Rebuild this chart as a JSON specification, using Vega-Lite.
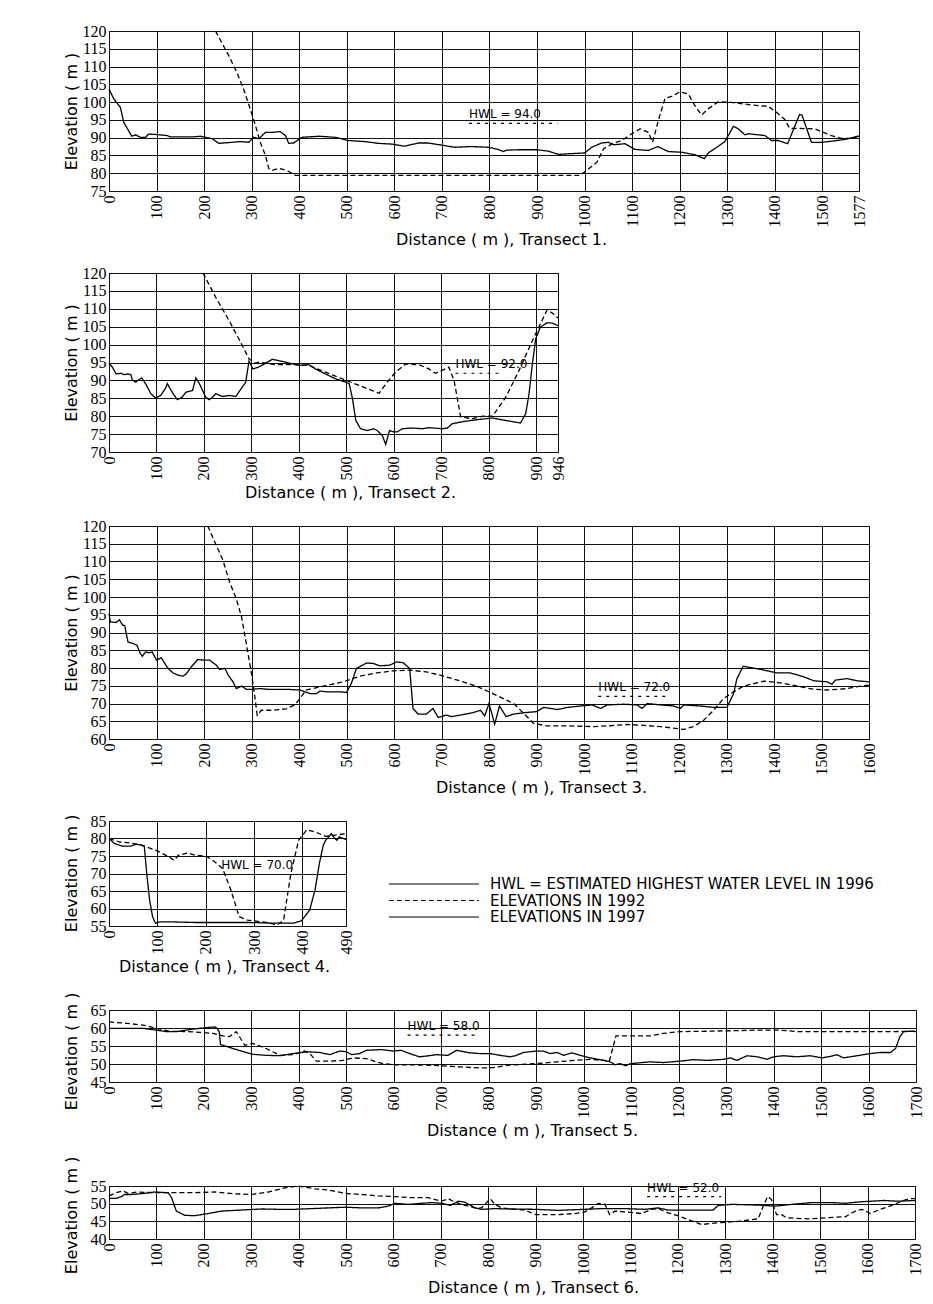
{
  "$schema": "https://vega.github.io/schema/vega-lite/v6.json",
  "padding": {"left": 62, "top": 22, "right": 5, "bottom": 0},
  "spacing": 16,
  "datasets": {
    "hwl": [
      {"t": 1, "d": 757, "d1": 943, "e": 94, "label": "HWL = 94.0"},
      {"t": 2, "d": 730, "d1": 822, "e": 92, "label": "HWL = 92.0"},
      {"t": 3, "d": 1030, "d1": 1180, "e": 72, "label": "HWL = 72.0"},
      {"t": 4, "d": 232, "d1": 232, "e": 70, "label": "HWL = 70.0"},
      {"t": 5, "d": 629, "d1": 777, "e": 58, "label": "HWL = 58.0"},
      {"t": 6, "d": 1135, "d1": 1291, "e": 52, "label": "HWL = 52.0"}
    ],
    "profiles": [
      {"t":1,"s":"1997","d":0,"e":103.7},{"t":1,"s":"1997","d":10,"e":100.9},{"t":1,"s":"1997","d":24,"e":98.5},{"t":1,"s":"1997","d":31,"e":94.3},{"t":1,"s":"1997","d":48,"e":90.4},{"t":1,"s":"1997","d":56,"e":90.8},{"t":1,"s":"1997","d":66,"e":90.1},{"t":1,"s":"1997","d":77,"e":90.1},{"t":1,"s":"1997","d":83,"e":91},{"t":1,"s":"1997","d":98,"e":90.9},{"t":1,"s":"1997","d":122,"e":90.6},{"t":1,"s":"1997","d":129,"e":90.2},{"t":1,"s":"1997","d":175,"e":90.2},{"t":1,"s":"1997","d":192,"e":90.4},{"t":1,"s":"1997","d":217,"e":89.7},{"t":1,"s":"1997","d":231,"e":88.4},{"t":1,"s":"1997","d":259,"e":88.7},{"t":1,"s":"1997","d":276,"e":88.9},{"t":1,"s":"1997","d":294,"e":88.7},{"t":1,"s":"1997","d":304,"e":90.1},{"t":1,"s":"1997","d":315,"e":89.7},{"t":1,"s":"1997","d":329,"e":91.5},{"t":1,"s":"1997","d":343,"e":91.5},{"t":1,"s":"1997","d":360,"e":91.7},{"t":1,"s":"1997","d":371,"e":90.6},{"t":1,"s":"1997","d":378,"e":88.4},{"t":1,"s":"1997","d":388,"e":88.5},{"t":1,"s":"1997","d":406,"e":90.1},{"t":1,"s":"1997","d":441,"e":90.4},{"t":1,"s":"1997","d":476,"e":90.1},{"t":1,"s":"1997","d":503,"e":89.2},{"t":1,"s":"1997","d":538,"e":88.9},{"t":1,"s":"1997","d":566,"e":88.4},{"t":1,"s":"1997","d":594,"e":88.2},{"t":1,"s":"1997","d":622,"e":87.6},{"t":1,"s":"1997","d":650,"e":88.5},{"t":1,"s":"1997","d":671,"e":88.5},{"t":1,"s":"1997","d":699,"e":87.9},{"t":1,"s":"1997","d":727,"e":87.3},{"t":1,"s":"1997","d":762,"e":87.5},{"t":1,"s":"1997","d":797,"e":87.3},{"t":1,"s":"1997","d":818,"e":86.7},{"t":1,"s":"1997","d":829,"e":86.1},{"t":1,"s":"1997","d":836,"e":86.5},{"t":1,"s":"1997","d":862,"e":86.6},{"t":1,"s":"1997","d":900,"e":86.6},{"t":1,"s":"1997","d":924,"e":86.2},{"t":1,"s":"1997","d":945,"e":85.3},{"t":1,"s":"1997","d":970,"e":85.5},{"t":1,"s":"1997","d":1000,"e":85.7},{"t":1,"s":"1997","d":1015,"e":87.3},{"t":1,"s":"1997","d":1036,"e":88.5},{"t":1,"s":"1997","d":1050,"e":88.7},{"t":1,"s":"1997","d":1061,"e":88},{"t":1,"s":"1997","d":1085,"e":88.3},{"t":1,"s":"1997","d":1106,"e":86.7},{"t":1,"s":"1997","d":1134,"e":86.4},{"t":1,"s":"1997","d":1154,"e":87.5},{"t":1,"s":"1997","d":1176,"e":86.1},{"t":1,"s":"1997","d":1204,"e":85.9},{"t":1,"s":"1997","d":1232,"e":85.2},{"t":1,"s":"1997","d":1252,"e":84.1},{"t":1,"s":"1997","d":1260,"e":85.7},{"t":1,"s":"1997","d":1278,"e":87.3},{"t":1,"s":"1997","d":1295,"e":88.9},{"t":1,"s":"1997","d":1313,"e":93.2},{"t":1,"s":"1997","d":1323,"e":92.5},{"t":1,"s":"1997","d":1337,"e":90.8},{"t":1,"s":"1997","d":1344,"e":91.1},{"t":1,"s":"1997","d":1379,"e":90.6},{"t":1,"s":"1997","d":1393,"e":89.2},{"t":1,"s":"1997","d":1407,"e":89.2},{"t":1,"s":"1997","d":1427,"e":88.3},{"t":1,"s":"1997","d":1452,"e":96.5},{"t":1,"s":"1997","d":1457,"e":96.4},{"t":1,"s":"1997","d":1477,"e":88.7},{"t":1,"s":"1997","d":1498,"e":88.7},{"t":1,"s":"1997","d":1519,"e":89},{"t":1,"s":"1997","d":1547,"e":89.5},{"t":1,"s":"1997","d":1577,"e":90.4},
      {"t":1,"s":"1992","d":224,"e":120},{"t":1,"s":"1992","d":252,"e":113},{"t":1,"s":"1992","d":269,"e":108.3},{"t":1,"s":"1992","d":283,"e":103.7},{"t":1,"s":"1992","d":297,"e":98.1},{"t":1,"s":"1992","d":308,"e":93.4},{"t":1,"s":"1992","d":318,"e":88.7},{"t":1,"s":"1992","d":329,"e":85},{"t":1,"s":"1992","d":336,"e":81.3},{"t":1,"s":"1992","d":343,"e":80.8},{"t":1,"s":"1992","d":357,"e":81.4},{"t":1,"s":"1992","d":374,"e":80.8},{"t":1,"s":"1992","d":385,"e":79.9},{"t":1,"s":"1992","d":392,"e":79.4},{"t":1,"s":"1992","d":991,"e":79.4},{"t":1,"s":"1992","d":1026,"e":83.1},{"t":1,"s":"1992","d":1040,"e":86.9},{"t":1,"s":"1992","d":1061,"e":88.5},{"t":1,"s":"1992","d":1078,"e":89.2},{"t":1,"s":"1992","d":1099,"e":91.1},{"t":1,"s":"1992","d":1117,"e":92.5},{"t":1,"s":"1992","d":1134,"e":91.5},{"t":1,"s":"1992","d":1143,"e":88.7},{"t":1,"s":"1992","d":1155,"e":94.8},{"t":1,"s":"1992","d":1169,"e":101},{"t":1,"s":"1992","d":1183,"e":101.6},{"t":1,"s":"1992","d":1201,"e":102.9},{"t":1,"s":"1992","d":1218,"e":102.3},{"t":1,"s":"1992","d":1232,"e":99},{"t":1,"s":"1992","d":1246,"e":96.4},{"t":1,"s":"1992","d":1260,"e":98.1},{"t":1,"s":"1992","d":1281,"e":100.1},{"t":1,"s":"1992","d":1309,"e":99.9},{"t":1,"s":"1992","d":1351,"e":99.2},{"t":1,"s":"1992","d":1386,"e":98.8},{"t":1,"s":"1992","d":1404,"e":97.1},{"t":1,"s":"1992","d":1421,"e":95.1},{"t":1,"s":"1992","d":1431,"e":92.6},{"t":1,"s":"1992","d":1449,"e":92.6},{"t":1,"s":"1992","d":1484,"e":92.5},{"t":1,"s":"1992","d":1498,"e":91.7},{"t":1,"s":"1992","d":1519,"e":90.6},{"t":1,"s":"1992","d":1540,"e":89.8},{"t":1,"s":"1992","d":1561,"e":89.8},{"t":1,"s":"1992","d":1577,"e":90.6},
      {"t":2,"s":"1997","d":0,"e":94.8},{"t":2,"s":"1997","d":7,"e":93.7},{"t":2,"s":"1997","d":15,"e":91.8},{"t":2,"s":"1997","d":25,"e":92},{"t":2,"s":"1997","d":32,"e":91.6},{"t":2,"s":"1997","d":39,"e":91.8},{"t":2,"s":"1997","d":46,"e":91.6},{"t":2,"s":"1997","d":49,"e":90.2},{"t":2,"s":"1997","d":56,"e":89.5},{"t":2,"s":"1997","d":63,"e":90.2},{"t":2,"s":"1997","d":69,"e":90.7},{"t":2,"s":"1997","d":77,"e":89.1},{"t":2,"s":"1997","d":88,"e":86.3},{"t":2,"s":"1997","d":98,"e":85.1},{"t":2,"s":"1997","d":109,"e":85.8},{"t":2,"s":"1997","d":119,"e":87.8},{"t":2,"s":"1997","d":123,"e":89.1},{"t":2,"s":"1997","d":133,"e":86.7},{"t":2,"s":"1997","d":144,"e":84.6},{"t":2,"s":"1997","d":154,"e":85.3},{"t":2,"s":"1997","d":162,"e":86.7},{"t":2,"s":"1997","d":176,"e":87.2},{"t":2,"s":"1997","d":183,"e":90.7},{"t":2,"s":"1997","d":190,"e":89.2},{"t":2,"s":"1997","d":204,"e":85.3},{"t":2,"s":"1997","d":211,"e":84.6},{"t":2,"s":"1997","d":218,"e":85.3},{"t":2,"s":"1997","d":225,"e":86.3},{"t":2,"s":"1997","d":239,"e":85.5},{"t":2,"s":"1997","d":253,"e":85.8},{"t":2,"s":"1997","d":267,"e":85.5},{"t":2,"s":"1997","d":277,"e":87.4},{"t":2,"s":"1997","d":288,"e":89.5},{"t":2,"s":"1997","d":295,"e":95.4},{"t":2,"s":"1997","d":303,"e":93.2},{"t":2,"s":"1997","d":315,"e":93.7},{"t":2,"s":"1997","d":330,"e":94.8},{"t":2,"s":"1997","d":344,"e":95.9},{"t":2,"s":"1997","d":372,"e":95.1},{"t":2,"s":"1997","d":400,"e":94.2},{"t":2,"s":"1997","d":421,"e":94.4},{"t":2,"s":"1997","d":435,"e":93.2},{"t":2,"s":"1997","d":456,"e":91.8},{"t":2,"s":"1997","d":478,"e":90.4},{"t":2,"s":"1997","d":499,"e":89.5},{"t":2,"s":"1997","d":506,"e":89.1},{"t":2,"s":"1997","d":513,"e":84.9},{"t":2,"s":"1997","d":520,"e":78.8},{"t":2,"s":"1997","d":530,"e":76.5},{"t":2,"s":"1997","d":544,"e":76},{"t":2,"s":"1997","d":558,"e":76.5},{"t":2,"s":"1997","d":565,"e":76},{"t":2,"s":"1997","d":576,"e":74.6},{"t":2,"s":"1997","d":583,"e":72.1},{"t":2,"s":"1997","d":591,"e":76},{"t":2,"s":"1997","d":600,"e":75.6},{"t":2,"s":"1997","d":607,"e":75.6},{"t":2,"s":"1997","d":618,"e":76.5},{"t":2,"s":"1997","d":639,"e":76.7},{"t":2,"s":"1997","d":660,"e":76.5},{"t":2,"s":"1997","d":674,"e":76.8},{"t":2,"s":"1997","d":702,"e":76.5},{"t":2,"s":"1997","d":713,"e":76.7},{"t":2,"s":"1997","d":723,"e":77.9},{"t":2,"s":"1997","d":751,"e":78.6},{"t":2,"s":"1997","d":780,"e":79.1},{"t":2,"s":"1997","d":808,"e":79.5},{"t":2,"s":"1997","d":836,"e":78.8},{"t":2,"s":"1997","d":853,"e":78.4},{"t":2,"s":"1997","d":867,"e":78.1},{"t":2,"s":"1997","d":878,"e":80.7},{"t":2,"s":"1997","d":885,"e":86.3},{"t":2,"s":"1997","d":892,"e":94.6},{"t":2,"s":"1997","d":899,"e":101.6},{"t":2,"s":"1997","d":909,"e":104.9},{"t":2,"s":"1997","d":923,"e":106.1},{"t":2,"s":"1997","d":934,"e":106},{"t":2,"s":"1997","d":946,"e":105.3},
      {"t":2,"s":"1992","d":198,"e":120},{"t":2,"s":"1992","d":225,"e":113.2},{"t":2,"s":"1992","d":253,"e":106.7},{"t":2,"s":"1992","d":281,"e":99.7},{"t":2,"s":"1992","d":295,"e":96},{"t":2,"s":"1992","d":309,"e":94.8},{"t":2,"s":"1992","d":316,"e":95.1},{"t":2,"s":"1992","d":330,"e":94.8},{"t":2,"s":"1992","d":351,"e":94.4},{"t":2,"s":"1992","d":386,"e":94.4},{"t":2,"s":"1992","d":421,"e":94.2},{"t":2,"s":"1992","d":456,"e":92.3},{"t":2,"s":"1992","d":492,"e":90.4},{"t":2,"s":"1992","d":527,"e":88.6},{"t":2,"s":"1992","d":569,"e":86.4},{"t":2,"s":"1992","d":586,"e":89.5},{"t":2,"s":"1992","d":604,"e":92.3},{"t":2,"s":"1992","d":625,"e":94.6},{"t":2,"s":"1992","d":653,"e":94.4},{"t":2,"s":"1992","d":674,"e":93.2},{"t":2,"s":"1992","d":688,"e":92},{"t":2,"s":"1992","d":702,"e":92.8},{"t":2,"s":"1992","d":716,"e":93.7},{"t":2,"s":"1992","d":727,"e":90},{"t":2,"s":"1992","d":741,"e":79.8},{"t":2,"s":"1992","d":765,"e":79.3},{"t":2,"s":"1992","d":787,"e":80},{"t":2,"s":"1992","d":808,"e":80},{"t":2,"s":"1992","d":836,"e":85.3},{"t":2,"s":"1992","d":864,"e":92.8},{"t":2,"s":"1992","d":892,"e":101.1},{"t":2,"s":"1992","d":909,"e":105.8},{"t":2,"s":"1992","d":923,"e":109.7},{"t":2,"s":"1992","d":934,"e":108.8},{"t":2,"s":"1992","d":946,"e":107.4},
      {"t":3,"s":"1997","d":0,"e":95.3},{"t":3,"s":"1997","d":3,"e":93},{"t":3,"s":"1997","d":15,"e":92.8},{"t":3,"s":"1997","d":22,"e":93.6},{"t":3,"s":"1997","d":29,"e":92},{"t":3,"s":"1997","d":33,"e":92},{"t":3,"s":"1997","d":40,"e":87.3},{"t":3,"s":"1997","d":51,"e":86.9},{"t":3,"s":"1997","d":59,"e":86.4},{"t":3,"s":"1997","d":65,"e":84.3},{"t":3,"s":"1997","d":70,"e":83.3},{"t":3,"s":"1997","d":77,"e":84.5},{"t":3,"s":"1997","d":84,"e":84.3},{"t":3,"s":"1997","d":91,"e":84.5},{"t":3,"s":"1997","d":100,"e":82.2},{"t":3,"s":"1997","d":110,"e":82.9},{"t":3,"s":"1997","d":124,"e":79.9},{"t":3,"s":"1997","d":135,"e":78.6},{"t":3,"s":"1997","d":145,"e":78},{"t":3,"s":"1997","d":156,"e":77.7},{"t":3,"s":"1997","d":163,"e":78.4},{"t":3,"s":"1997","d":173,"e":80.3},{"t":3,"s":"1997","d":187,"e":82.4},{"t":3,"s":"1997","d":198,"e":82.2},{"t":3,"s":"1997","d":212,"e":82.2},{"t":3,"s":"1997","d":226,"e":80.8},{"t":3,"s":"1997","d":233,"e":79.6},{"t":3,"s":"1997","d":244,"e":79.9},{"t":3,"s":"1997","d":251,"e":78},{"t":3,"s":"1997","d":261,"e":76.1},{"t":3,"s":"1997","d":268,"e":74.2},{"t":3,"s":"1997","d":279,"e":74.9},{"t":3,"s":"1997","d":289,"e":74},{"t":3,"s":"1997","d":300,"e":74},{"t":3,"s":"1997","d":317,"e":74.2},{"t":3,"s":"1997","d":335,"e":74},{"t":3,"s":"1997","d":373,"e":74},{"t":3,"s":"1997","d":402,"e":73.8},{"t":3,"s":"1997","d":423,"e":72.8},{"t":3,"s":"1997","d":437,"e":72.8},{"t":3,"s":"1997","d":444,"e":73.5},{"t":3,"s":"1997","d":458,"e":73.3},{"t":3,"s":"1997","d":486,"e":73.3},{"t":3,"s":"1997","d":500,"e":73.1},{"t":3,"s":"1997","d":510,"e":75.6},{"t":3,"s":"1997","d":521,"e":79.9},{"t":3,"s":"1997","d":542,"e":81.4},{"t":3,"s":"1997","d":556,"e":81.3},{"t":3,"s":"1997","d":570,"e":80.6},{"t":3,"s":"1997","d":591,"e":80.8},{"t":3,"s":"1997","d":605,"e":81.7},{"t":3,"s":"1997","d":619,"e":81.5},{"t":3,"s":"1997","d":633,"e":79.9},{"t":3,"s":"1997","d":640,"e":68.6},{"t":3,"s":"1997","d":651,"e":67},{"t":3,"s":"1997","d":668,"e":67},{"t":3,"s":"1997","d":682,"e":68.6},{"t":3,"s":"1997","d":693,"e":66.1},{"t":3,"s":"1997","d":710,"e":66.7},{"t":3,"s":"1997","d":721,"e":66.3},{"t":3,"s":"1997","d":738,"e":66.7},{"t":3,"s":"1997","d":766,"e":67.4},{"t":3,"s":"1997","d":782,"e":68.1},{"t":3,"s":"1997","d":791,"e":66.5},{"t":3,"s":"1997","d":800,"e":70},{"t":3,"s":"1997","d":812,"e":64.2},{"t":3,"s":"1997","d":822,"e":69.3},{"t":3,"s":"1997","d":836,"e":66.3},{"t":3,"s":"1997","d":851,"e":67},{"t":3,"s":"1997","d":873,"e":67.4},{"t":3,"s":"1997","d":900,"e":67.7},{"t":3,"s":"1997","d":915,"e":68.9},{"t":3,"s":"1997","d":944,"e":68.3},{"t":3,"s":"1997","d":965,"e":68.9},{"t":3,"s":"1997","d":993,"e":69.3},{"t":3,"s":"1997","d":1017,"e":69.6},{"t":3,"s":"1997","d":1035,"e":68.6},{"t":3,"s":"1997","d":1049,"e":69.6},{"t":3,"s":"1997","d":1084,"e":69.8},{"t":3,"s":"1997","d":1112,"e":69.6},{"t":3,"s":"1997","d":1122,"e":68.6},{"t":3,"s":"1997","d":1133,"e":70},{"t":3,"s":"1997","d":1161,"e":69.6},{"t":3,"s":"1997","d":1189,"e":69.3},{"t":3,"s":"1997","d":1203,"e":68.6},{"t":3,"s":"1997","d":1210,"e":69.6},{"t":3,"s":"1997","d":1245,"e":69.3},{"t":3,"s":"1997","d":1273,"e":68.9},{"t":3,"s":"1997","d":1301,"e":68.9},{"t":3,"s":"1997","d":1315,"e":72.8},{"t":3,"s":"1997","d":1322,"e":77},{"t":3,"s":"1997","d":1335,"e":80.5},{"t":3,"s":"1997","d":1372,"e":79.6},{"t":3,"s":"1997","d":1407,"e":78.6},{"t":3,"s":"1997","d":1435,"e":78.6},{"t":3,"s":"1997","d":1463,"e":77.5},{"t":3,"s":"1997","d":1484,"e":76.4},{"t":3,"s":"1997","d":1512,"e":76.1},{"t":3,"s":"1997","d":1522,"e":75.4},{"t":3,"s":"1997","d":1529,"e":76.6},{"t":3,"s":"1997","d":1554,"e":77},{"t":3,"s":"1997","d":1575,"e":76.4},{"t":3,"s":"1997","d":1600,"e":76.1},
      {"t":3,"s":"1992","d":208,"e":120},{"t":3,"s":"1992","d":226,"e":114.5},{"t":3,"s":"1992","d":240,"e":110.3},{"t":3,"s":"1992","d":254,"e":104.2},{"t":3,"s":"1992","d":268,"e":99.5},{"t":3,"s":"1992","d":279,"e":94.4},{"t":3,"s":"1992","d":289,"e":86.9},{"t":3,"s":"1992","d":300,"e":78.4},{"t":3,"s":"1992","d":307,"e":71.9},{"t":3,"s":"1992","d":312,"e":66.7},{"t":3,"s":"1992","d":321,"e":68.1},{"t":3,"s":"1992","d":345,"e":68.1},{"t":3,"s":"1992","d":373,"e":68.5},{"t":3,"s":"1992","d":391,"e":69.6},{"t":3,"s":"1992","d":402,"e":71.4},{"t":3,"s":"1992","d":415,"e":73.8},{"t":3,"s":"1992","d":451,"e":74.9},{"t":3,"s":"1992","d":493,"e":76.1},{"t":3,"s":"1992","d":528,"e":77.7},{"t":3,"s":"1992","d":563,"e":78.6},{"t":3,"s":"1992","d":598,"e":79.2},{"t":3,"s":"1992","d":633,"e":79.4},{"t":3,"s":"1992","d":668,"e":78.9},{"t":3,"s":"1992","d":703,"e":77.8},{"t":3,"s":"1992","d":738,"e":76.4},{"t":3,"s":"1992","d":773,"e":74.9},{"t":3,"s":"1992","d":808,"e":72.8},{"t":3,"s":"1992","d":836,"e":71},{"t":3,"s":"1992","d":852,"e":70},{"t":3,"s":"1992","d":873,"e":67.2},{"t":3,"s":"1992","d":894,"e":64.4},{"t":3,"s":"1992","d":922,"e":63.7},{"t":3,"s":"1992","d":965,"e":63.7},{"t":3,"s":"1992","d":1021,"e":63.5},{"t":3,"s":"1992","d":1049,"e":63.7},{"t":3,"s":"1992","d":1091,"e":64.1},{"t":3,"s":"1992","d":1119,"e":63.9},{"t":3,"s":"1992","d":1161,"e":63.5},{"t":3,"s":"1992","d":1210,"e":62.7},{"t":3,"s":"1992","d":1231,"e":63.5},{"t":3,"s":"1992","d":1252,"e":65.3},{"t":3,"s":"1992","d":1273,"e":68.1},{"t":3,"s":"1992","d":1294,"e":71.4},{"t":3,"s":"1992","d":1315,"e":73.3},{"t":3,"s":"1992","d":1336,"e":74.9},{"t":3,"s":"1992","d":1379,"e":76.3},{"t":3,"s":"1992","d":1414,"e":75.8},{"t":3,"s":"1992","d":1456,"e":74.7},{"t":3,"s":"1992","d":1484,"e":74},{"t":3,"s":"1992","d":1512,"e":73.8},{"t":3,"s":"1992","d":1554,"e":74.2},{"t":3,"s":"1992","d":1582,"e":74.9},{"t":3,"s":"1992","d":1600,"e":75.2},
      {"t":4,"s":"1997","d":0,"e":80},{"t":4,"s":"1997","d":11,"e":78.6},{"t":4,"s":"1997","d":28,"e":77.8},{"t":4,"s":"1997","d":45,"e":77.8},{"t":4,"s":"1997","d":56,"e":78.4},{"t":4,"s":"1997","d":67,"e":78.1},{"t":4,"s":"1997","d":73,"e":77.8},{"t":4,"s":"1997","d":78,"e":70},{"t":4,"s":"1997","d":84,"e":62.4},{"t":4,"s":"1997","d":90,"e":57.7},{"t":4,"s":"1997","d":96,"e":55.8},{"t":4,"s":"1997","d":106,"e":56.2},{"t":4,"s":"1997","d":123,"e":56.2},{"t":4,"s":"1997","d":179,"e":56},{"t":4,"s":"1997","d":235,"e":56},{"t":4,"s":"1997","d":291,"e":56},{"t":4,"s":"1997","d":348,"e":55.8},{"t":4,"s":"1997","d":381,"e":55.8},{"t":4,"s":"1997","d":398,"e":56.5},{"t":4,"s":"1997","d":415,"e":59.6},{"t":4,"s":"1997","d":426,"e":65.3},{"t":4,"s":"1997","d":435,"e":72.9},{"t":4,"s":"1997","d":443,"e":78.1},{"t":4,"s":"1997","d":448,"e":79.5},{"t":4,"s":"1997","d":460,"e":81.4},{"t":4,"s":"1997","d":465,"e":80.3},{"t":4,"s":"1997","d":471,"e":79.5},{"t":4,"s":"1997","d":476,"e":80.5},{"t":4,"s":"1997","d":490,"e":79.7},
      {"t":4,"s":"1992","d":0,"e":80},{"t":4,"s":"1992","d":22,"e":79},{"t":4,"s":"1992","d":45,"e":78.7},{"t":4,"s":"1992","d":67,"e":78.1},{"t":4,"s":"1992","d":101,"e":76.4},{"t":4,"s":"1992","d":123,"e":74.8},{"t":4,"s":"1992","d":135,"e":73.8},{"t":4,"s":"1992","d":143,"e":75.2},{"t":4,"s":"1992","d":163,"e":75.9},{"t":4,"s":"1992","d":179,"e":75.2},{"t":4,"s":"1992","d":202,"e":74.9},{"t":4,"s":"1992","d":219,"e":73.3},{"t":4,"s":"1992","d":235,"e":71.4},{"t":4,"s":"1992","d":252,"e":65.3},{"t":4,"s":"1992","d":269,"e":57.7},{"t":4,"s":"1992","d":286,"e":56.7},{"t":4,"s":"1992","d":325,"e":56},{"t":4,"s":"1992","d":348,"e":55.3},{"t":4,"s":"1992","d":361,"e":56.7},{"t":4,"s":"1992","d":376,"e":70},{"t":4,"s":"1992","d":392,"e":79.5},{"t":4,"s":"1992","d":409,"e":82.5},{"t":4,"s":"1992","d":426,"e":81.9},{"t":4,"s":"1992","d":448,"e":80.6},{"t":4,"s":"1992","d":465,"e":80.9},{"t":4,"s":"1992","d":490,"e":81.4},
      {"t":5,"s":"1997","d":0,"e":59.9},{"t":5,"s":"1997","d":37,"e":59.9},{"t":5,"s":"1997","d":72,"e":59.9},{"t":5,"s":"1997","d":100,"e":59.4},{"t":5,"s":"1997","d":121,"e":59},{"t":5,"s":"1997","d":142,"e":59},{"t":5,"s":"1997","d":177,"e":59.7},{"t":5,"s":"1997","d":205,"e":60.1},{"t":5,"s":"1997","d":223,"e":60.3},{"t":5,"s":"1997","d":228,"e":59.9},{"t":5,"s":"1997","d":232,"e":59},{"t":5,"s":"1997","d":235,"e":55.4},{"t":5,"s":"1997","d":240,"e":55.2},{"t":5,"s":"1997","d":261,"e":54.3},{"t":5,"s":"1997","d":289,"e":53.2},{"t":5,"s":"1997","d":303,"e":52.7},{"t":5,"s":"1997","d":331,"e":52.4},{"t":5,"s":"1997","d":360,"e":52.3},{"t":5,"s":"1997","d":388,"e":52.9},{"t":5,"s":"1997","d":416,"e":53.4},{"t":5,"s":"1997","d":444,"e":53.2},{"t":5,"s":"1997","d":465,"e":52.6},{"t":5,"s":"1997","d":486,"e":53.6},{"t":5,"s":"1997","d":500,"e":53.4},{"t":5,"s":"1997","d":511,"e":52.6},{"t":5,"s":"1997","d":528,"e":52.9},{"t":5,"s":"1997","d":542,"e":53.8},{"t":5,"s":"1997","d":574,"e":54},{"t":5,"s":"1997","d":598,"e":53.6},{"t":5,"s":"1997","d":616,"e":53.8},{"t":5,"s":"1997","d":633,"e":52.9},{"t":5,"s":"1997","d":654,"e":52},{"t":5,"s":"1997","d":675,"e":52.3},{"t":5,"s":"1997","d":689,"e":52.6},{"t":5,"s":"1997","d":714,"e":52.4},{"t":5,"s":"1997","d":732,"e":53.8},{"t":5,"s":"1997","d":760,"e":53.1},{"t":5,"s":"1997","d":781,"e":52.9},{"t":5,"s":"1997","d":803,"e":52.9},{"t":5,"s":"1997","d":824,"e":52.4},{"t":5,"s":"1997","d":845,"e":52},{"t":5,"s":"1997","d":856,"e":52.3},{"t":5,"s":"1997","d":873,"e":53.2},{"t":5,"s":"1997","d":900,"e":53.6},{"t":5,"s":"1997","d":915,"e":53.6},{"t":5,"s":"1997","d":929,"e":52.9},{"t":5,"s":"1997","d":944,"e":53.2},{"t":5,"s":"1997","d":958,"e":52.4},{"t":5,"s":"1997","d":975,"e":53.1},{"t":5,"s":"1997","d":993,"e":52.4},{"t":5,"s":"1997","d":1014,"e":51.7},{"t":5,"s":"1997","d":1042,"e":51},{"t":5,"s":"1997","d":1056,"e":50.6},{"t":5,"s":"1997","d":1066,"e":49.8},{"t":5,"s":"1997","d":1077,"e":50.1},{"t":5,"s":"1997","d":1088,"e":49.5},{"t":5,"s":"1997","d":1098,"e":50.1},{"t":5,"s":"1997","d":1140,"e":50.6},{"t":5,"s":"1997","d":1168,"e":50.4},{"t":5,"s":"1997","d":1203,"e":50.8},{"t":5,"s":"1997","d":1231,"e":51.2},{"t":5,"s":"1997","d":1260,"e":51},{"t":5,"s":"1997","d":1295,"e":51.3},{"t":5,"s":"1997","d":1309,"e":51.7},{"t":5,"s":"1997","d":1323,"e":51},{"t":5,"s":"1997","d":1344,"e":52.3},{"t":5,"s":"1997","d":1365,"e":52},{"t":5,"s":"1997","d":1386,"e":51.3},{"t":5,"s":"1997","d":1400,"e":52},{"t":5,"s":"1997","d":1421,"e":52.3},{"t":5,"s":"1997","d":1449,"e":52},{"t":5,"s":"1997","d":1477,"e":52.3},{"t":5,"s":"1997","d":1502,"e":51.7},{"t":5,"s":"1997","d":1519,"e":52.1},{"t":5,"s":"1997","d":1533,"e":52.6},{"t":5,"s":"1997","d":1547,"e":51.7},{"t":5,"s":"1997","d":1576,"e":52.3},{"t":5,"s":"1997","d":1604,"e":52.9},{"t":5,"s":"1997","d":1625,"e":53.2},{"t":5,"s":"1997","d":1646,"e":53.2},{"t":5,"s":"1997","d":1657,"e":54.3},{"t":5,"s":"1997","d":1666,"e":57.6},{"t":5,"s":"1997","d":1674,"e":59},{"t":5,"s":"1997","d":1688,"e":59.1},{"t":5,"s":"1997","d":1700,"e":59},
      {"t":5,"s":"1992","d":0,"e":61.7},{"t":5,"s":"1992","d":37,"e":61.3},{"t":5,"s":"1992","d":72,"e":60.8},{"t":5,"s":"1992","d":100,"e":59.9},{"t":5,"s":"1992","d":128,"e":59.1},{"t":5,"s":"1992","d":163,"e":59},{"t":5,"s":"1992","d":191,"e":58.8},{"t":5,"s":"1992","d":219,"e":58.5},{"t":5,"s":"1992","d":240,"e":57.8},{"t":5,"s":"1992","d":254,"e":57.6},{"t":5,"s":"1992","d":268,"e":59},{"t":5,"s":"1992","d":286,"e":55.2},{"t":5,"s":"1992","d":303,"e":55.7},{"t":5,"s":"1992","d":331,"e":54.3},{"t":5,"s":"1992","d":360,"e":52.4},{"t":5,"s":"1992","d":388,"e":52.6},{"t":5,"s":"1992","d":412,"e":53.6},{"t":5,"s":"1992","d":423,"e":52.9},{"t":5,"s":"1992","d":437,"e":50.8},{"t":5,"s":"1992","d":465,"e":50.8},{"t":5,"s":"1992","d":493,"e":51},{"t":5,"s":"1992","d":514,"e":51.7},{"t":5,"s":"1992","d":542,"e":51.5},{"t":5,"s":"1992","d":563,"e":50.6},{"t":5,"s":"1992","d":577,"e":50.1},{"t":5,"s":"1992","d":598,"e":49.8},{"t":5,"s":"1992","d":669,"e":49.7},{"t":5,"s":"1992","d":704,"e":49.5},{"t":5,"s":"1992","d":739,"e":49.2},{"t":5,"s":"1992","d":781,"e":48.9},{"t":5,"s":"1992","d":803,"e":48.9},{"t":5,"s":"1992","d":845,"e":49.7},{"t":5,"s":"1992","d":900,"e":50.1},{"t":5,"s":"1992","d":944,"e":50.6},{"t":5,"s":"1992","d":979,"e":51},{"t":5,"s":"1992","d":1014,"e":51.3},{"t":5,"s":"1992","d":1042,"e":51},{"t":5,"s":"1992","d":1054,"e":50.8},{"t":5,"s":"1992","d":1068,"e":57.8},{"t":5,"s":"1992","d":1098,"e":57.8},{"t":5,"s":"1992","d":1140,"e":57.8},{"t":5,"s":"1992","d":1168,"e":58.5},{"t":5,"s":"1992","d":1203,"e":59},{"t":5,"s":"1992","d":1260,"e":59.1},{"t":5,"s":"1992","d":1365,"e":59.4},{"t":5,"s":"1992","d":1414,"e":59.4},{"t":5,"s":"1992","d":1449,"e":59},{"t":5,"s":"1992","d":1505,"e":59},{"t":5,"s":"1992","d":1576,"e":59},{"t":5,"s":"1992","d":1646,"e":59},{"t":5,"s":"1992","d":1700,"e":59.1},
      {"t":6,"s":"1997","d":0,"e":51.5},{"t":6,"s":"1997","d":15,"e":51.5},{"t":6,"s":"1997","d":26,"e":52},{"t":6,"s":"1997","d":33,"e":52.6},{"t":6,"s":"1997","d":47,"e":52.6},{"t":6,"s":"1997","d":75,"e":52.9},{"t":6,"s":"1997","d":96,"e":53.3},{"t":6,"s":"1997","d":125,"e":53.1},{"t":6,"s":"1997","d":132,"e":51.7},{"t":6,"s":"1997","d":142,"e":47.9},{"t":6,"s":"1997","d":160,"e":46.7},{"t":6,"s":"1997","d":181,"e":46.6},{"t":6,"s":"1997","d":209,"e":47.2},{"t":6,"s":"1997","d":237,"e":47.9},{"t":6,"s":"1997","d":279,"e":48.2},{"t":6,"s":"1997","d":322,"e":48.5},{"t":6,"s":"1997","d":357,"e":48.4},{"t":6,"s":"1997","d":392,"e":48.4},{"t":6,"s":"1997","d":427,"e":48.6},{"t":6,"s":"1997","d":462,"e":48.8},{"t":6,"s":"1997","d":498,"e":49},{"t":6,"s":"1997","d":533,"e":48.8},{"t":6,"s":"1997","d":568,"e":48.8},{"t":6,"s":"1997","d":589,"e":49.3},{"t":6,"s":"1997","d":603,"e":50.1},{"t":6,"s":"1997","d":631,"e":49.8},{"t":6,"s":"1997","d":659,"e":50.1},{"t":6,"s":"1997","d":680,"e":50.3},{"t":6,"s":"1997","d":702,"e":50.1},{"t":6,"s":"1997","d":720,"e":49.5},{"t":6,"s":"1997","d":737,"e":50.7},{"t":6,"s":"1997","d":751,"e":50.4},{"t":6,"s":"1997","d":772,"e":48.8},{"t":6,"s":"1997","d":786,"e":48.4},{"t":6,"s":"1997","d":814,"e":48.6},{"t":6,"s":"1997","d":842,"e":48.5},{"t":6,"s":"1997","d":900,"e":48.4},{"t":6,"s":"1997","d":947,"e":48.1},{"t":6,"s":"1997","d":1003,"e":48.4},{"t":6,"s":"1997","d":1039,"e":48.6},{"t":6,"s":"1997","d":1088,"e":48.6},{"t":6,"s":"1997","d":1130,"e":48.4},{"t":6,"s":"1997","d":1158,"e":48.8},{"t":6,"s":"1997","d":1179,"e":48.2},{"t":6,"s":"1997","d":1229,"e":48.2},{"t":6,"s":"1997","d":1274,"e":48.2},{"t":6,"s":"1997","d":1285,"e":49.5},{"t":6,"s":"1997","d":1313,"e":49.8},{"t":6,"s":"1997","d":1369,"e":49.6},{"t":6,"s":"1997","d":1405,"e":49.3},{"t":6,"s":"1997","d":1440,"e":49.8},{"t":6,"s":"1997","d":1482,"e":50.3},{"t":6,"s":"1997","d":1524,"e":50.3},{"t":6,"s":"1997","d":1554,"e":50.1},{"t":6,"s":"1997","d":1582,"e":50.5},{"t":6,"s":"1997","d":1635,"e":50.9},{"t":6,"s":"1997","d":1663,"e":50.7},{"t":6,"s":"1997","d":1700,"e":50.9},
      {"t":6,"s":"1992","d":0,"e":52.2},{"t":6,"s":"1992","d":15,"e":53.1},{"t":6,"s":"1992","d":30,"e":53.6},{"t":6,"s":"1992","d":40,"e":52.9},{"t":6,"s":"1992","d":61,"e":53.3},{"t":6,"s":"1992","d":96,"e":53.1},{"t":6,"s":"1992","d":132,"e":53.1},{"t":6,"s":"1992","d":181,"e":53.1},{"t":6,"s":"1992","d":223,"e":53.3},{"t":6,"s":"1992","d":265,"e":52.8},{"t":6,"s":"1992","d":300,"e":52.6},{"t":6,"s":"1992","d":336,"e":53.3},{"t":6,"s":"1992","d":371,"e":54.5},{"t":6,"s":"1992","d":399,"e":55},{"t":6,"s":"1992","d":434,"e":54.2},{"t":6,"s":"1992","d":462,"e":53.9},{"t":6,"s":"1992","d":498,"e":52.9},{"t":6,"s":"1992","d":533,"e":52.6},{"t":6,"s":"1992","d":568,"e":52.2},{"t":6,"s":"1992","d":603,"e":52},{"t":6,"s":"1992","d":638,"e":51.7},{"t":6,"s":"1992","d":673,"e":51.7},{"t":6,"s":"1992","d":702,"e":50.7},{"t":6,"s":"1992","d":716,"e":51.4},{"t":6,"s":"1992","d":730,"e":50.4},{"t":6,"s":"1992","d":751,"e":49.5},{"t":6,"s":"1992","d":772,"e":48.8},{"t":6,"s":"1992","d":786,"e":48.8},{"t":6,"s":"1992","d":804,"e":51.4},{"t":6,"s":"1992","d":814,"e":49.8},{"t":6,"s":"1992","d":828,"e":48.8},{"t":6,"s":"1992","d":849,"e":48.5},{"t":6,"s":"1992","d":877,"e":48.2},{"t":6,"s":"1992","d":900,"e":46.9},{"t":6,"s":"1992","d":947,"e":46.9},{"t":6,"s":"1992","d":982,"e":47.2},{"t":6,"s":"1992","d":1003,"e":47.6},{"t":6,"s":"1992","d":1018,"e":48.8},{"t":6,"s":"1992","d":1032,"e":50.1},{"t":6,"s":"1992","d":1046,"e":49.8},{"t":6,"s":"1992","d":1056,"e":46.9},{"t":6,"s":"1992","d":1067,"e":47.9},{"t":6,"s":"1992","d":1095,"e":47.6},{"t":6,"s":"1992","d":1123,"e":47.2},{"t":6,"s":"1992","d":1144,"e":48.4},{"t":6,"s":"1992","d":1158,"e":48.6},{"t":6,"s":"1992","d":1179,"e":47.4},{"t":6,"s":"1992","d":1200,"e":46.6},{"t":6,"s":"1992","d":1222,"e":45.5},{"t":6,"s":"1992","d":1250,"e":44.1},{"t":6,"s":"1992","d":1285,"e":44.6},{"t":6,"s":"1992","d":1327,"e":45},{"t":6,"s":"1992","d":1369,"e":45.7},{"t":6,"s":"1992","d":1380,"e":49.3},{"t":6,"s":"1992","d":1389,"e":52},{"t":6,"s":"1992","d":1397,"e":51.2},{"t":6,"s":"1992","d":1408,"e":46.9},{"t":6,"s":"1992","d":1419,"e":46.9},{"t":6,"s":"1992","d":1429,"e":46},{"t":6,"s":"1992","d":1475,"e":45.7},{"t":6,"s":"1992","d":1510,"e":46},{"t":6,"s":"1992","d":1553,"e":46.3},{"t":6,"s":"1992","d":1574,"e":47.9},{"t":6,"s":"1992","d":1588,"e":48.4},{"t":6,"s":"1992","d":1606,"e":47.2},{"t":6,"s":"1992","d":1623,"e":48.2},{"t":6,"s":"1992","d":1651,"e":49.5},{"t":6,"s":"1992","d":1672,"e":50.7},{"t":6,"s":"1992","d":1687,"e":51.4},{"t":6,"s":"1992","d":1700,"e":51.4}
    ]
  },
  "vconcat": [
    {
      "width": 750, "height": 160,
      "encoding": {
        "x": {"field": "d", "type": "quantitative", "scale": {"domain": [0, 1577], "nice": false, "zero": false}, "axis": {"values": [0,100,200,300,400,500,600,700,800,900,1000,1100,1200,1300,1400,1500,1577], "title": "Distance ( m  ), Transect 1.", "titleX": 392}},
        "y": {"field": "e", "type": "quantitative", "scale": {"domain": [75, 120], "nice": false, "zero": false}, "axis": {"values": [75,80,85,90,95,100,105,110,115,120], "title": "Elevation ( m )"}}
      },
      "layer": [
        {"data": {"name": "profiles"}, "transform": [{"filter": "datum.t == 1"}],
         "mark": {"type": "line", "color": "black", "strokeWidth": 1.3},
         "encoding": {"strokeDash": {"field": "s", "type": "nominal", "scale": {"domain": ["HWL", "1992", "1997"], "range": [[1,0],[5,3],[1,0]]}, "legend": {"title": null, "labelExpr": "datum.label == 'HWL' ? 'HWL = ESTIMATED HIGHEST WATER LEVEL IN 1996' : 'ELEVATIONS IN ' + datum.label"}}}},
        {"data": {"name": "hwl"}, "transform": [{"filter": "datum.t == 1"}],
         "mark": {"type": "rule", "color": "black", "strokeDash": [3, 5], "strokeWidth": 1.2},
         "encoding": {"x2": {"field": "d1"}}},
        {"data": {"name": "hwl"}, "transform": [{"filter": "datum.t == 1"}],
         "mark": {"type": "text", "align": "left", "baseline": "bottom", "dy": -2, "fontSize": 12, "font": "DejaVu Sans", "color": "black"},
         "encoding": {"text": {"field": "label"}}}
      ]
    },
    {
      "width": 449, "height": 179,
      "encoding": {
        "x": {"field": "d", "type": "quantitative", "scale": {"domain": [0, 946], "nice": false, "zero": false}, "axis": {"values": [0,100,200,300,400,500,600,700,800,900,946], "title": "Distance ( m  ), Transect 2.", "titleX": 241}},
        "y": {"field": "e", "type": "quantitative", "scale": {"domain": [70, 120], "nice": false, "zero": false}, "axis": {"values": [70,75,80,85,90,95,100,105,110,115,120], "title": "Elevation ( m )"}}
      },
      "layer": [
        {"data": {"name": "profiles"}, "transform": [{"filter": "datum.t == 2"}],
         "mark": {"type": "line", "color": "black", "strokeWidth": 1.3},
         "encoding": {"strokeDash": {"field": "s", "type": "nominal", "scale": {"domain": ["HWL", "1992", "1997"], "range": [[1,0],[5,3],[1,0]]}, "legend": {"title": null, "labelExpr": "datum.label == 'HWL' ? 'HWL = ESTIMATED HIGHEST WATER LEVEL IN 1996' : 'ELEVATIONS IN ' + datum.label"}}}},
        {"data": {"name": "hwl"}, "transform": [{"filter": "datum.t == 2"}],
         "mark": {"type": "rule", "color": "black", "strokeDash": [3, 5], "strokeWidth": 1.2},
         "encoding": {"x2": {"field": "d1"}}},
        {"data": {"name": "hwl"}, "transform": [{"filter": "datum.t == 2"}],
         "mark": {"type": "text", "align": "left", "baseline": "bottom", "dy": -2, "fontSize": 12, "font": "DejaVu Sans", "color": "black"},
         "encoding": {"text": {"field": "label"}}}
      ]
    },
    {
      "width": 760, "height": 213,
      "encoding": {
        "x": {"field": "d", "type": "quantitative", "scale": {"domain": [0, 1600], "nice": false, "zero": false}, "axis": {"values": [0,100,200,300,400,500,600,700,800,900,1000,1100,1200,1300,1400,1500,1600], "title": "Distance ( m  ), Transect 3.", "titleX": 432}},
        "y": {"field": "e", "type": "quantitative", "scale": {"domain": [60, 120], "nice": false, "zero": false}, "axis": {"values": [60,65,70,75,80,85,90,95,100,105,110,115,120], "title": "Elevation ( m )"}}
      },
      "layer": [
        {"data": {"name": "profiles"}, "transform": [{"filter": "datum.t == 3"}],
         "mark": {"type": "line", "color": "black", "strokeWidth": 1.3},
         "encoding": {"strokeDash": {"field": "s", "type": "nominal", "scale": {"domain": ["HWL", "1992", "1997"], "range": [[1,0],[5,3],[1,0]]}, "legend": {"title": null, "labelExpr": "datum.label == 'HWL' ? 'HWL = ESTIMATED HIGHEST WATER LEVEL IN 1996' : 'ELEVATIONS IN ' + datum.label"}}}},
        {"data": {"name": "hwl"}, "transform": [{"filter": "datum.t == 3"}],
         "mark": {"type": "rule", "color": "black", "strokeDash": [3, 5], "strokeWidth": 1.2},
         "encoding": {"x2": {"field": "d1"}}},
        {"data": {"name": "hwl"}, "transform": [{"filter": "datum.t == 3"}],
         "mark": {"type": "text", "align": "left", "baseline": "bottom", "dy": -2, "fontSize": 12, "font": "DejaVu Sans", "color": "black"},
         "encoding": {"text": {"field": "label"}}}
      ]
    },
    {
      "width": 237, "height": 105,
      "encoding": {
        "x": {"field": "d", "type": "quantitative", "scale": {"domain": [0, 490], "nice": false, "zero": false}, "axis": {"values": [0,100,200,300,400,490], "title": "Distance ( m  ), Transect 4.", "titleX": 115}},
        "y": {"field": "e", "type": "quantitative", "scale": {"domain": [55, 85], "nice": false, "zero": false}, "axis": {"values": [55,60,65,70,75,80,85], "title": "Elevation ( m )", "titleY": -7, "titleAlign": "right"}}
      },
      "layer": [
        {"data": {"name": "profiles"}, "transform": [{"filter": "datum.t == 4"}],
         "mark": {"type": "line", "color": "black", "strokeWidth": 1.3},
         "encoding": {"strokeDash": {"field": "s", "type": "nominal", "scale": {"domain": ["HWL", "1992", "1997"], "range": [[1,0],[5,3],[1,0]]}, "legend": {"title": null, "labelExpr": "datum.label == 'HWL' ? 'HWL = ESTIMATED HIGHEST WATER LEVEL IN 1996' : 'ELEVATIONS IN ' + datum.label"}}}},
        {"data": {"name": "hwl"}, "transform": [{"filter": "datum.t == 4"}],
         "mark": {"type": "rule", "color": "black", "strokeDash": [3, 5], "strokeWidth": 1.2},
         "encoding": {"x2": {"field": "d1"}}},
        {"data": {"name": "hwl"}, "transform": [{"filter": "datum.t == 4"}],
         "mark": {"type": "text", "align": "left", "baseline": "bottom", "dy": -2, "fontSize": 12, "font": "DejaVu Sans", "color": "black"},
         "encoding": {"text": {"field": "label"}}}
      ]
    },
    {
      "width": 807, "height": 72,
      "encoding": {
        "x": {"field": "d", "type": "quantitative", "scale": {"domain": [0, 1700], "nice": false, "zero": false}, "axis": {"values": [0,100,200,300,400,500,600,700,800,900,1000,1100,1200,1300,1400,1500,1600,1700], "title": "Distance ( m  ), Transect 5.", "titleX": 423}},
        "y": {"field": "e", "type": "quantitative", "scale": {"domain": [45, 65], "nice": false, "zero": false}, "axis": {"values": [45,50,55,60,65], "title": "Elevation ( m )", "titleY": -18, "titleAlign": "right"}}
      },
      "layer": [
        {"data": {"name": "profiles"}, "transform": [{"filter": "datum.t == 5"}],
         "mark": {"type": "line", "color": "black", "strokeWidth": 1.3},
         "encoding": {"strokeDash": {"field": "s", "type": "nominal", "scale": {"domain": ["HWL", "1992", "1997"], "range": [[1,0],[5,3],[1,0]]}, "legend": {"title": null, "labelExpr": "datum.label == 'HWL' ? 'HWL = ESTIMATED HIGHEST WATER LEVEL IN 1996' : 'ELEVATIONS IN ' + datum.label"}}}},
        {"data": {"name": "hwl"}, "transform": [{"filter": "datum.t == 5"}],
         "mark": {"type": "rule", "color": "black", "strokeDash": [3, 5], "strokeWidth": 1.2},
         "encoding": {"x2": {"field": "d1"}}},
        {"data": {"name": "hwl"}, "transform": [{"filter": "datum.t == 5"}],
         "mark": {"type": "text", "align": "left", "baseline": "bottom", "dy": -2, "fontSize": 12, "font": "DejaVu Sans", "color": "black"},
         "encoding": {"text": {"field": "label"}}}
      ]
    },
    {
      "width": 806, "height": 53,
      "encoding": {
        "x": {"field": "d", "type": "quantitative", "scale": {"domain": [0, 1700], "nice": false, "zero": false}, "axis": {"values": [0,100,200,300,400,500,600,700,800,900,1000,1100,1200,1300,1400,1500,1600,1700], "title": "Distance ( m  ), Transect 6.", "titleX": 424}},
        "y": {"field": "e", "type": "quantitative", "scale": {"domain": [40, 55], "nice": false, "zero": false}, "axis": {"values": [40,45,50,55], "title": "Elevation ( m )", "titleY": -30, "titleAlign": "right"}}
      },
      "layer": [
        {"data": {"name": "profiles"}, "transform": [{"filter": "datum.t == 6"}],
         "mark": {"type": "line", "color": "black", "strokeWidth": 1.3},
         "encoding": {"strokeDash": {"field": "s", "type": "nominal", "scale": {"domain": ["HWL", "1992", "1997"], "range": [[1,0],[5,3],[1,0]]}, "legend": {"title": null, "labelExpr": "datum.label == 'HWL' ? 'HWL = ESTIMATED HIGHEST WATER LEVEL IN 1996' : 'ELEVATIONS IN ' + datum.label"}}}},
        {"data": {"name": "hwl"}, "transform": [{"filter": "datum.t == 6"}],
         "mark": {"type": "rule", "color": "black", "strokeDash": [3, 5], "strokeWidth": 1.2},
         "encoding": {"x2": {"field": "d1"}}},
        {"data": {"name": "hwl"}, "transform": [{"filter": "datum.t == 6"}],
         "mark": {"type": "text", "align": "left", "baseline": "bottom", "dy": -2, "fontSize": 12, "font": "DejaVu Sans", "color": "black"},
         "encoding": {"text": {"field": "label"}}}
      ]
    }
  ],
  "config": {
    "font": "DejaVu Sans",
    "view": {"stroke": "black", "strokeWidth": 1},
    "axis": {"grid": true, "gridColor": "#111", "gridWidth": 1, "gridOpacity": 1, "domain": false, "ticks": false, "format": "d", "labelFont": "Liberation Sans Narrow", "labelFontSize": 16, "labelColor": "black", "labelFlush": false, "labelOverlap": false, "labelBound": false, "titleFont": "DejaVu Sans", "titleFontSize": 16, "titleFontWeight": "normal", "titleColor": "black"},
    "axisX": {"labelAngle": 270, "labelPadding": 4, "titlePadding": 4},
    "axisY": {"labelPadding": 3, "titlePadding": 5, "minExtent": 25, "maxExtent": 25},
    "legend": {"orient": "none", "legendX": 279, "legendY": 846, "symbolType": "stroke", "symbolSize": 8100, "symbolStrokeColor": "black", "symbolStrokeWidth": 1.2, "labelFont": "DejaVu Sans", "labelFontSize": 15, "labelColor": "black", "labelLimit": 600, "clipHeight": 14, "rowPadding": 1.5, "labelOffset": 10}
  }
}
